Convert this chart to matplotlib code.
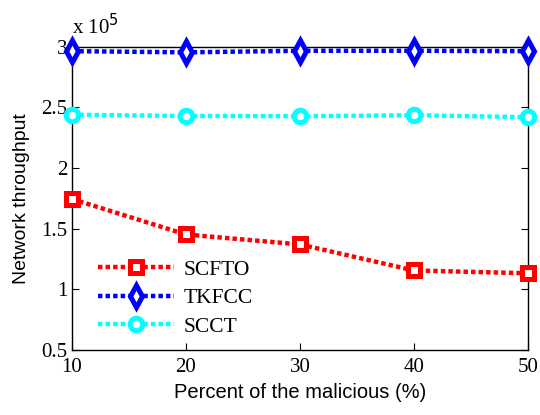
"""Network throughput vs percent of malicious nodes (MATLAB-style line chart)."""
import matplotlib
matplotlib.use("Agg")
import matplotlib.pyplot as plt

# data (throughput in units of 1e5)
percent = [10, 20, 30, 40, 50]
scfto = [1.745, 1.452, 1.370, 1.155, 1.132]
tkfcc = [2.965, 2.955, 2.968, 2.968, 2.965]
scct = [2.440, 2.430, 2.428, 2.436, 2.420]
x_ticks = [10, 20, 30, 40, 50]
y_ticks = [0.5, 1, 1.5, 2, 2.5, 3]

SERIF = "Liberation Serif"
SANS = "Liberation Sans"

fig = plt.figure(figsize=(5.4, 4.15), dpi=100)
ax = fig.add_axes([0.133, 0.157, 0.845, 0.73])

dots = (0, (1.0, 0.7))
series = [
    ("SCFTO", scfto, "#ff0000", "s", 8),
    ("TKFCC", tkfcc, "#0000ff", "d", 11),
    ("SCCT", scct, "#00ffff", "o", 9),
]
for name, vals, col, mk, ms in series:
    ax.plot(percent, vals, color=col, linestyle=dots, linewidth=3.2,
            marker=mk, markersize=ms, markeredgewidth=3.6,
            markerfacecolor="white", markeredgecolor=col,
            label=name, clip_on=False, zorder=3)

ax.set_xlim(10, 50)
ax.set_ylim(0.5, 3)
ax.set_xticks(x_ticks)
ax.set_yticks(y_ticks)
ax.set_xticklabels([str(t) for t in x_ticks], family=SERIF, fontsize=15)
ax.set_yticklabels([f"{t:g}" for t in y_ticks], family=SERIF, fontsize=15)
ax.tick_params(direction="in", top=True, right=True, length=5, width=0.8)
ax.tick_params(axis="x", pad=6)
ax.tick_params(axis="y", pad=3)
for sp in ax.spines.values():
    sp.set_linewidth(1.0)

ax.set_xlabel("Percent of the malicious (%)", family=SANS, fontsize=14.5, labelpad=4)
ax.set_ylabel("Network throughput", family=SANS, fontsize=14, labelpad=8)

ax.text(0.0, 1.025, r"x 10$^{5}$", transform=ax.transAxes, family=SERIF,
        fontsize=15, ha="left", va="bottom")

leg = ax.legend(loc="lower left", bbox_to_anchor=(0.03, 0.0), frameon=False,
                prop={"family": SERIF, "size": 15.5}, handlelength=3.5,
                handletextpad=0.45, labelspacing=0.4, borderaxespad=0.2)

fig.savefig("out.png", dpi=100)
